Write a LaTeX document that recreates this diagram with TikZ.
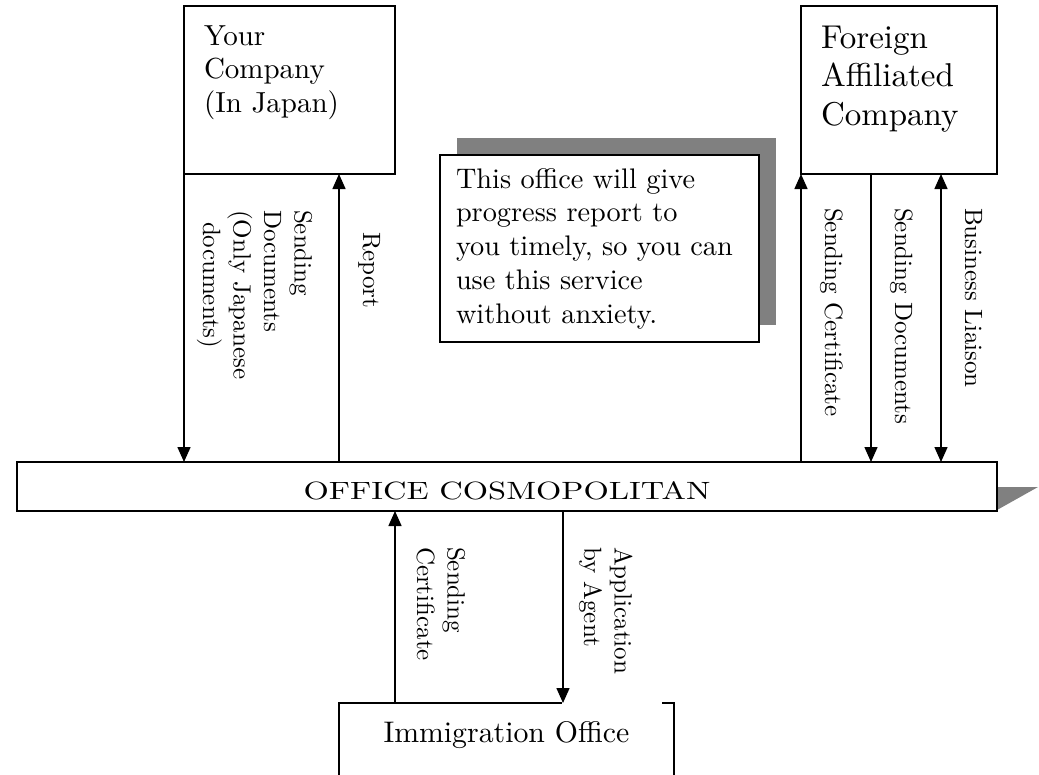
\documentclass[tikz,border=0pt]{standalone}
\usepackage{fontspec}
\setmainfont{lmroman10-regular.otf}
\newfontfamily\widefont{lmroman10-regular.otf}[FakeStretch=1.3]
\usetikzlibrary{arrows.meta}
\begin{document}
\begin{tikzpicture}[x=1pt,y=-1pt,
  every node/.style={inner sep=0pt, outer sep=0pt},
  box/.style={draw=black, line width=2pt, fill=white},
  arr/.style={line width=1.5pt, -{Triangle[length=15pt,width=13pt]}},
  darr/.style={line width=1.5pt, {Triangle[length=15pt,width=13pt]}-{Triangle[length=15pt,width=13pt]}},
  lbl/.style={rotate=-90, anchor=base west, align=left, font=\fontsize{25}{30.5}\selectfont},
  shadow/.style={fill=gray, draw=none}
]
\useasboundingbox[fill=white] (0,0) rectangle (1039,774);

% message box with shadow
\fill[shadow] (457,138) rectangle (776,325);
\node[box, minimum width=319, minimum height=187, anchor=north west] (msg) at (440,155) {};
\node[anchor=base west, align=left, font=\fontsize{28.3}{33.7}\selectfont] (msgt) at (456,323)
  {This office will give\\progress report to\\you timely, so you can\\use this service\\without anxiety.};

% Your Company
\node[box, minimum width=211, minimum height=168, anchor=north west] (yc) at (184,6) {};
\node[anchor=base west, align=left, font=\fontsize{29}{33.5}\selectfont] (yct) at (204,112)
  {Your\\Company\\(In Japan)};

% Foreign Affiliated Company
\node[box, minimum width=196, minimum height=168, anchor=north west] (fc) at (801,6) {};
\node[anchor=base west, align=left, font=\fontsize{33}{38.5}\selectfont] (fct) at (821,125)
  {Foreign\\Affiliated\\Company};

% Office bar
\fill[shadow] (990,487) -- (1038,487) -- (997,510) -- cycle;
\node[box, minimum width=980, text height=37, text depth=12, anchor=base,
      font=\widefont\fontsize{25}{28}\selectfont] (bar) at (507,499) {OFFICE COSMOPOLITAN};

% Immigration Office
\node[anchor=base, text height=39, font=\fontsize{29.8}{33}\selectfont] (imm) at (506.5,742) {Immigration Office};
\draw[line width=2pt] (339,780) -- (339,0 |- imm.north) -- (562,0 |- imm.north);
\draw[line width=2pt] (662,0 |- imm.north) -- (674,0 |- imm.north) -- (674,780);

% connectors
\draw[arr] (yc.south west) -- (yc.south west |- bar.north);
\draw[arr] (339,0 |- bar.north) -- (339,0 |- yc.south);
\draw[arr] (fc.south west |- bar.north) -- (fc.south west);
\draw[arr] (871,0 |- fc.south) -- (871,0 |- bar.north);
\draw[darr] (941,0 |- bar.north) -- (941,0 |- fc.south);
\draw[arr] (395,0 |- imm.north) -- (395,0 |- bar.south);
\draw[arr] (563,0 |- bar.south) -- (563,0 |- imm.north);

% labels (anchor = baseline of last line)
\node[lbl] (l1) at (203,210) {Sending\\Documents\\(Only Japanese\\\hspace*{12pt}documents)};
\node[lbl] (l2) at (363,232) {Report};
\node[lbl] (l3) at (825,208) {Sending Certificate};
\node[lbl] (l4) at (895,208) {Sending Documents};
\node[lbl] (l5) at (965,208) {Business Liaison};
\node[lbl] (l6) at (417,547) {Sending\\Certificate};
\node[lbl] (l7) at (584,547) {Application\\by Agent};
\end{tikzpicture}
\end{document}
